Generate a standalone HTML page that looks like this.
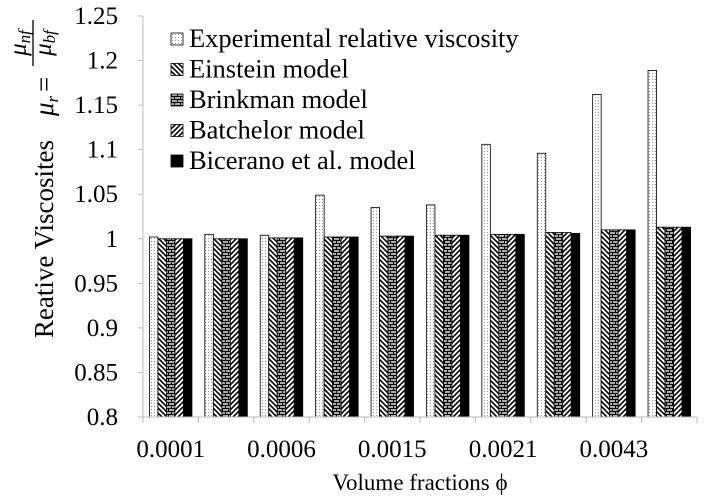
<!DOCTYPE html>
<html><head><meta charset="utf-8"><style>
body{margin:0;background:#fff;}
svg{display:block;font-family:"Liberation Serif","DejaVu Serif",serif;}
text{font-family:"Liberation Serif","DejaVu Serif",serif;}
</style></head><body>
<svg id="chart" width="709" height="504" viewBox="0 0 709 504" font-family="Liberation Serif, serif">
<defs>
<pattern id="pExp" width="3" height="3" patternUnits="userSpaceOnUse"><rect width="3" height="3" fill="#fff"/><rect x="1" y="1" width="1" height="1" fill="#999"/></pattern>
<pattern id="pEin" width="5" height="5" patternUnits="userSpaceOnUse"><rect width="5" height="5" fill="#fff"/><path d="M-1,-1 L6,6 M-1,4 L1,6 M4,-1 L6,1" stroke="#000" stroke-width="1.6"/></pattern>
<pattern id="pBri" width="6" height="6" patternUnits="userSpaceOnUse"><rect width="6" height="6" fill="#aaa"/><path d="M0,0.5 H6 M0,3.5 H6 M0.5,0 V3 M3.5,3 V6" stroke="#000" stroke-width="1"/></pattern>
<pattern id="pBat" width="5" height="5" patternUnits="userSpaceOnUse"><rect width="5" height="5" fill="#fff"/><path d="M-1,6 L6,-1 M-1,1 L1,-1 M4,6 L6,4" stroke="#000" stroke-width="1.6"/></pattern>
</defs>
<g id="bars"></g>
<g id="axes"></g>
<g id="legend"></g>
<text x="420" y="490" font-size="23" text-anchor="middle" style="font-family:'Liberation Serif',serif">Volume fractions ϕ</text>
<g transform="translate(53,240) rotate(-90)" style="font-family:'Liberation Serif',serif">
<text x="100" y="0" font-size="27" text-anchor="end">Reative Viscosites</text>
<text x="124" y="0" font-size="27" font-style="italic">μ<tspan font-size="17" dy="5">r</tspan></text>
<text x="148" y="0" font-size="27">=</text>
<text x="197" y="-27" font-size="25" font-style="italic" text-anchor="middle">μ<tspan font-size="17" dy="4">nf</tspan></text>
<line x1="174" y1="-20" x2="220" y2="-20" stroke="#000" stroke-width="1.3"/>
<text x="197" y="-2" font-size="25" font-style="italic" text-anchor="middle">μ<tspan font-size="17" dy="4">bf</tspan></text>
</g>
</svg>
<script>
const categories=["0.0001","0.0002","0.0006","0.0010","0.0015","0.0018","0.0021","0.0030","0.0043","0.0050"];
const xLabels=["0.0001","","0.0006","","0.0015","","0.0021","","0.0043",""];
const experimental=[1.002,1.005,1.004,1.049,1.035,1.038,1.106,1.096,1.162,1.189];
const einstein=[1.000,1.000,1.001,1.002,1.003,1.004,1.005,1.007,1.010,1.013];
const brinkman=[1.000,1.000,1.001,1.002,1.003,1.004,1.005,1.007,1.010,1.013];
const batchelor=[1.000,1.000,1.001,1.002,1.003,1.004,1.005,1.007,1.010,1.013];
const bicerano=[1.000,1.000,1.001,1.002,1.003,1.004,1.005,1.006,1.010,1.013];
const yTicks=[0.8,0.85,0.9,0.95,1,1.05,1.1,1.15,1.2,1.25];
const yTickLabels=["0.8","0.85","0.9","0.95","1","1.05","1.1","1.15","1.2","1.25"];
const seriesNames=["Experimental relative viscosity","Einstein model","Brinkman model","Batchelor model","Bicerano et al. model"];
const NS="http://www.w3.org/2000/svg";
const FONT="font-family:'Liberation Serif',serif";
const X0=143,X1=697,Y0=417,Y1=16,YMIN=0.8,YMAX=1.25;
const fills=["url(#pExp)","url(#pEin)","url(#pBri)","url(#pBat)","#000"];
const keys=["experimental","einstein","brinkman","batchelor","bicerano"];
const series=[experimental,einstein,brinkman,batchelor,bicerano];
function y(v){return Y0-(v-YMIN)/(YMAX-YMIN)*(Y0-Y1);}
const band=(X1-X0)/categories.length;
function xc(i){return X0+band*(i+0.5);}
const bw=8.5;
function mk(tag,attrs,parent){const e=document.createElementNS(NS,tag);for(const k in attrs)e.setAttribute(k,attrs[k]);parent.appendChild(e);return e;}
const axes=document.getElementById('axes'),bars=document.getElementById('bars'),legend=document.getElementById('legend');
let ax=mk('line',{x1:X0,y1:Y1,x2:X0,y2:Y0,stroke:'#bbb','stroke-width':1},axes);


let bx=mk('line',{x1:X0,y1:Y0,x2:X1,y2:Y0,stroke:'#bbb','stroke-width':1},axes);


yTicks.forEach((t,i)=>{
  mk('line',{x1:X0-5,y1:y(t),x2:X0,y2:y(t),stroke:'#bbb'},axes);
  const tx=mk('text',{x:118,y:y(t)+8,'font-size':25,'text-anchor':'end',style:FONT},axes);
  tx.textContent=yTickLabels[i];
  
  
});
for(let i=0;i<=categories.length;i++){
  mk('line',{x1:X0+band*i,y1:Y0,x2:X0+band*i,y2:Y0+6,stroke:'#bbb'},axes);
}
xLabels.forEach((l,i)=>{
  if(!l)return;
  const tx=mk('text',{x:xc(i),y:457,'font-size':25,'text-anchor':'middle',style:FONT},axes);
  tx.textContent=l;
  
  
});
categories.forEach((c,i)=>{
  const left=xc(i)-bw*2.5;
  series.forEach((s,k)=>{
    const v=s[i];
    const r=mk('rect',{x:left+k*bw,y:y(v),width:bw,height:Y0-y(v),fill:fills[k],stroke:'#000','stroke-width':0.8},bars);
    
    
  });
});
seriesNames.forEach((n,k)=>{
  const yy=39+30.5*k;
  const sw=mk('rect',{x:171,y:yy-6,width:12,height:12,fill:fills[k],stroke:'#000','stroke-width':0.8},legend);
  
  
  const t=mk('text',{x:189,y:yy+8,'font-size':26.5,style:FONT},legend);
  t.textContent=n;
  
  
});
</script>
</body></html>
